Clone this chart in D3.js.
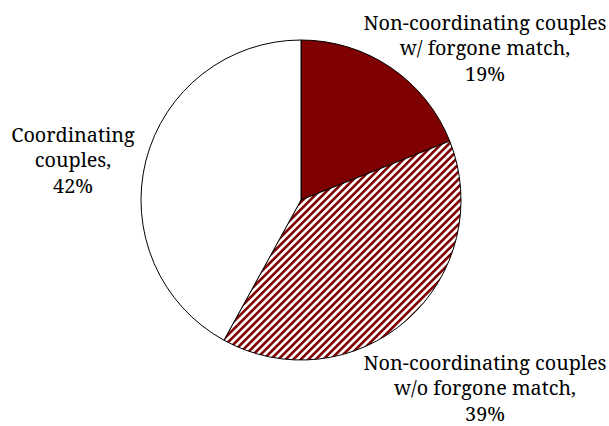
<!DOCTYPE html>
<html><head><meta charset="utf-8">
<script src="https://cdn.jsdelivr.net/npm/d3@7"></script>
<style>body{margin:0;background:#fff}svg{display:block}</style>
</head><body>
<svg id="chart" width="609" height="426"></svg>
<script>
const categories = ["Non-coordinating couples w/ forgone match", "Non-coordinating couples w/o forgone match", "Coordinating couples"];
const values = [19, 39, 42];
const labelLines = [
  ["Non-coordinating couples", "w/ forgone match,", "19%"],
  ["Non-coordinating couples", "w/o forgone match,", "39%"],
  ["Coordinating", "couples,", "42%"]
];
const fills = ["#7f0000", "url(#hatch)", "#ffffff"];

const svg = d3.select("#chart");
const defs = svg.append("defs");
const pat = defs.append("pattern").attr("id", "hatch").attr("patternUnits", "userSpaceOnUse")
  .attr("width", 5.3).attr("height", 5.3).attr("patternTransform", "rotate(45)");
pat.append("rect").attr("width", 5.3).attr("height", 5.3).attr("fill", "#fff");
pat.append("rect").attr("width", 2.6).attr("height", 5.3).attr("fill", "#7f0000");

const cx = 301, cy = 200, r = 160;
const pie = d3.pie().sort(null).value(d => d);
const arc = d3.arc().innerRadius(0).outerRadius(r);
const g = svg.append("g").attr("transform", `translate(${cx},${cy})`);
g.selectAll("path").data(pie(values)).join("path")
  .attr("d", arc).attr("fill", (d, i) => fills[i])
  .attr("stroke", "#000").attr("stroke-width", 1);

const labelPos = [[485, 30], [485, 370], [73, 142]];
const fs = 19.8, lh = 25.3;
labelLines.forEach((lines, i) => {
  const t = svg.append("text").attr("text-anchor", "middle")
    .attr("font-family", "'Noto Serif', 'DejaVu Serif', serif").attr("font-size", fs).attr("fill", "#000");
  lines.forEach((s, j) => {
    t.append("tspan").attr("x", labelPos[i][0]).attr("y", labelPos[i][1] + j * lh).text(s);
  });
});
</script>
</body></html>
